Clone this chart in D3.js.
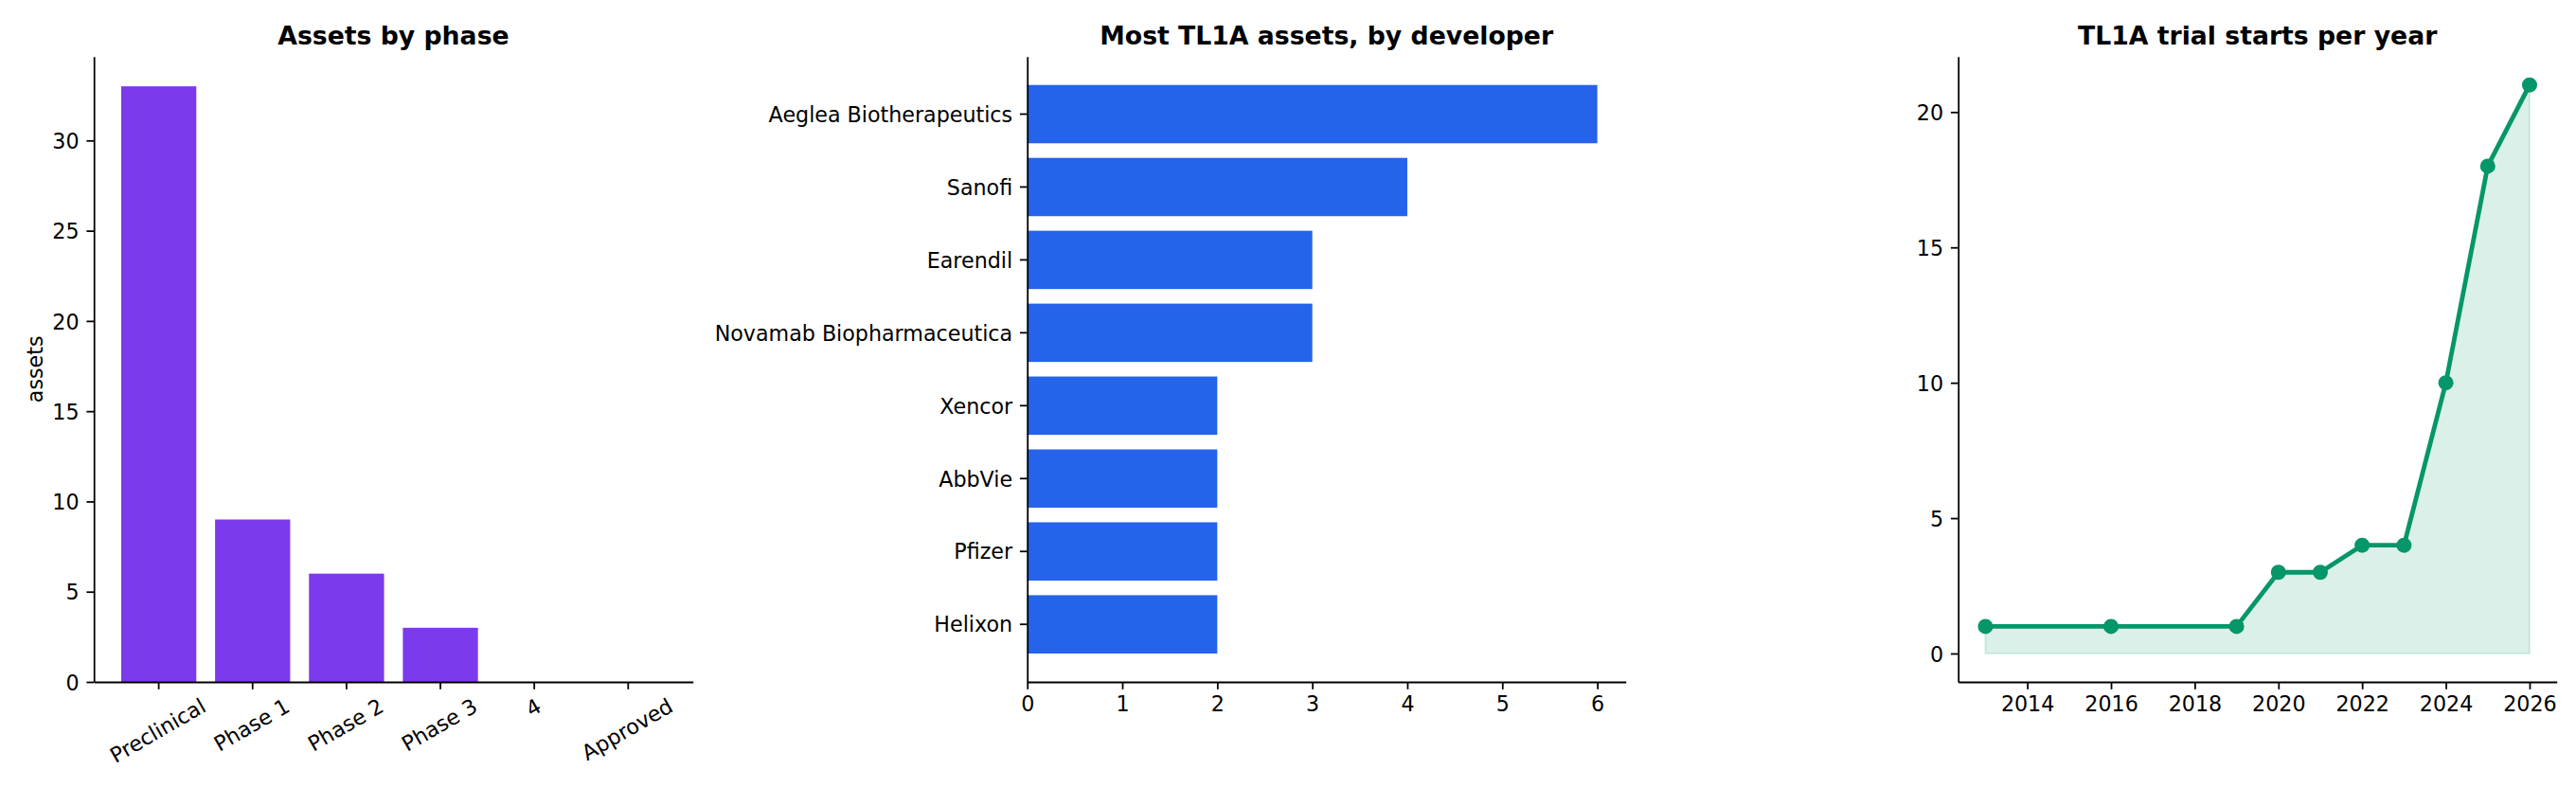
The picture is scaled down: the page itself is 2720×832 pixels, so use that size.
<!DOCTYPE html>
<html>
<head>
<meta charset="utf-8">
<script src="https://cdn.jsdelivr.net/npm/d3@7"></script>
<style>
  body { margin: 0; background: #fff; }
  text { font-family: "DejaVu Sans", sans-serif; fill: #000; }
</style>
</head>
<body>
<script>
// data
var phases = ["Preclinical", "Phase 1", "Phase 2", "Phase 3", "4", "Approved"];
var phaseCounts = [33, 9, 6, 3, 0, 0];

var developers = ["Aeglea Biotherapeutics", "Sanofi", "Earendil", "Novamab Biopharmaceutica",
                  "Xencor", "AbbVie", "Pfizer", "Helixon"];
var developerCounts = [6, 4, 3, 3, 2, 2, 2, 2];

var years = [2013, 2016, 2019, 2020, 2021, 2022, 2023, 2024, 2025, 2026];
var trialStarts = [1, 1, 1, 3, 3, 4, 4, 10, 18, 21];

var phaseTicks = [0, 5, 10, 15, 20, 25, 30];
var devTicks = [0, 1, 2, 3, 4, 5, 6];
var yearTicks = [2014, 2016, 2018, 2020, 2022, 2024, 2026];
var trialTicks = [0, 5, 10, 15, 20];

// layout
var W = 2720, H = 832;
var axTop = 59.7, axBottom = 720;
var fs = 22.2, tickLen = 7.8, tickPad = 7.8, lw = 1.78;

var svg = d3.select("body").append("svg")
    .attr("width", W).attr("height", H);
svg.append("rect").attr("width", W).attr("height", H).attr("fill", "#fff");

function styleAxis(g) {
    g.selectAll(".domain").attr("stroke", "#000").attr("stroke-width", lw);
    g.selectAll(".tick line").attr("stroke", "#000").attr("stroke-width", lw);
    g.selectAll(".tick text")
        .style("font-family", "DejaVu Sans")
        .style("font-size", fs + "px")
        .attr("fill", "#000");
}

function title(x0, x1, txt) {
    svg.append("text")
        .attr("x", (x0 + x1) / 2).attr("y", 47)
        .attr("text-anchor", "middle")
        .style("font-size", "26.7px").style("font-weight", "bold")
        .text(txt);
}

// ---- panel 1: assets by phase
var l1 = 99.2, r1 = 731.7;
var x1 = d3.scaleBand().domain(phases).range([l1, r1])
    .paddingInner(0.2).paddingOuter(0.29);
var y1 = d3.scaleLinear().domain([0, 34.65]).range([axBottom, axTop]);

svg.append("g").selectAll("rect")
    .data(phases)
    .enter().append("rect")
    .attr("x", function(d) { return x1(d); })
    .attr("width", x1.bandwidth())
    .attr("y", function(d, i) { return y1(phaseCounts[i]); })
    .attr("height", function(d, i) { return y1(0) - y1(phaseCounts[i]); })
    .attr("fill", "#7c3aed");

var gx1 = svg.append("g").attr("transform", "translate(0," + axBottom + ")")
    .call(d3.axisBottom(x1).tickSize(tickLen).tickSizeOuter(0).tickPadding(tickPad));
styleAxis(gx1);
// rotated labels, centred like matplotlib rotation=30
gx1.selectAll(".tick text").each(function() {
    var t = d3.select(this);
    t.attr("y", null).attr("dy", "0.26em").attr("text-anchor", "middle");
    var w = this.getComputedTextLength();
    var hh = fs * 1.0;
    var bh = w * 0.5 + hh * 0.866;
    t.attr("transform", "translate(0," + (tickLen + tickPad + bh / 2) + ") rotate(-30)");
});

var gy1 = svg.append("g").attr("transform", "translate(" + l1 + ",0)")
    .call(d3.axisLeft(y1).tickValues(phaseTicks).tickSize(tickLen).tickSizeOuter(0).tickPadding(tickPad));
styleAxis(gy1);
gy1.selectAll(".tick text").attr("dy", "0.37em");

svg.append("text")
    .attr("transform", "translate(44.5," + ((axTop + axBottom) / 2) + ") rotate(-90)")
    .attr("text-anchor", "middle")
    .style("font-size", fs + "px")
    .text("assets");

title(l1, r1, "Assets by phase");

// ---- panel 2: developers
var l2 = 1084.7, r2 = 1716.7;
var x2 = d3.scaleLinear().domain([0, 6.3]).range([l2, r2]);
var y2 = d3.scaleBand().domain(developers).range([axTop, axBottom])
    .paddingInner(0.2).paddingOuter(0.39);

svg.append("g").selectAll("rect")
    .data(developers)
    .enter().append("rect")
    .attr("x", x2(0))
    .attr("y", function(d) { return y2(d); })
    .attr("height", y2.bandwidth())
    .attr("width", function(d, i) { return x2(developerCounts[i]) - x2(0); })
    .attr("fill", "#2563eb");

var gx2 = svg.append("g").attr("transform", "translate(0," + axBottom + ")")
    .call(d3.axisBottom(x2).tickValues(devTicks).tickFormat(d3.format("d"))
        .tickSize(tickLen).tickSizeOuter(0).tickPadding(tickPad));
styleAxis(gx2);

var gy2 = svg.append("g").attr("transform", "translate(" + l2 + ",0)")
    .call(d3.axisLeft(y2).tickSize(tickLen).tickSizeOuter(0).tickPadding(tickPad));
styleAxis(gy2);
gy2.selectAll(".tick text").attr("dy", "0.37em");

title(l2, r2, "Most TL1A assets, by developer");

// ---- panel 3: trial starts per year
var l3 = 2067.7, r3 = 2699.7;
var green = "#059669";
var x3 = d3.scaleLinear().domain([2012.35, 2026.65]).range([l3, r3]);
var y3 = d3.scaleLinear().domain([-1.05, 22.05]).range([axBottom, axTop]);
var pts = years.map(function(d, i) { return [d, trialStarts[i]]; });

svg.append("path")
    .datum(pts)
    .attr("d", d3.area()
        .x(function(d) { return x3(d[0]); })
        .y0(y3(0))
        .y1(function(d) { return y3(d[1]); }))
    .attr("fill", green).attr("fill-opacity", 0.14)
    .attr("stroke", green).attr("stroke-opacity", 0.14).attr("stroke-width", 2.2);

svg.append("path")
    .datum(pts)
    .attr("d", d3.line()
        .x(function(d) { return x3(d[0]); })
        .y(function(d) { return y3(d[1]); }))
    .attr("fill", "none").attr("stroke", green).attr("stroke-width", 4.8)
    .attr("stroke-linejoin", "round").attr("stroke-linecap", "square");

svg.append("g").selectAll("circle")
    .data(pts)
    .enter().append("circle")
    .attr("cx", function(d) { return x3(d[0]); })
    .attr("cy", function(d) { return y3(d[1]); })
    .attr("r", 8)
    .attr("fill", green);

var gx3 = svg.append("g").attr("transform", "translate(0," + axBottom + ")")
    .call(d3.axisBottom(x3).tickValues(yearTicks).tickFormat(d3.format("d"))
        .tickSize(tickLen).tickSizeOuter(0).tickPadding(tickPad));
styleAxis(gx3);

var gy3 = svg.append("g").attr("transform", "translate(" + l3 + ",0)")
    .call(d3.axisLeft(y3).tickValues(trialTicks).tickSize(tickLen).tickSizeOuter(0).tickPadding(tickPad));
styleAxis(gy3);
gy3.selectAll(".tick text").attr("dy", "0.37em");

title(l3, r3, "TL1A trial starts per year");
</script>
</body>
</html>
